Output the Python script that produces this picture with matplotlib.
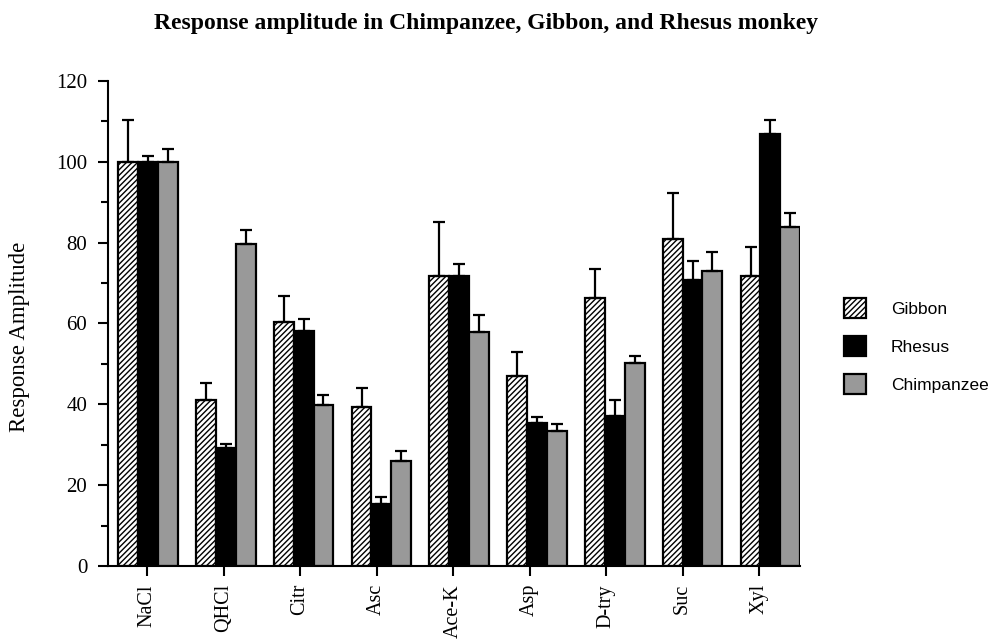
import numpy as np
import matplotlib
matplotlib.use('Agg')
import matplotlib.pyplot as plt
from matplotlib.patches import Patch
from matplotlib.ticker import MultipleLocator

# values
tastants = ["NaCl", "QHCl", "Citr", "Asc", "Ace-K", "Asp", "D-try", "Suc", "Xyl"]
gibbon = [100, 41.1, 60.4, 39.4, 71.8, 47.1, 66.4, 80.9, 71.8]
gibbon_err = [10.4, 4.2, 6.4, 4.7, 13.3, 5.9, 7.1, 11.4, 7.2]
rhesus = [100, 29.2, 58.0, 15.3, 71.8, 35.4, 37.1, 70.8, 106.9]
rhesus_err = [1.3, 1.0, 3.0, 1.8, 3.0, 1.5, 4.0, 4.7, 3.5]
chimp = [100, 79.7, 39.9, 26.0, 57.9, 33.4, 50.2, 73.0, 83.9]
chimp_err = [3.2, 3.5, 2.4, 2.5, 4.2, 1.7, 1.8, 4.7, 3.5]

plt.rcParams['hatch.color'] = '#333333'
plt.rcParams['hatch.linewidth'] = 1.0

fig = plt.figure(figsize=(9.92, 6.41), dpi=100)
ax = fig.add_axes([0.109, 0.117, 0.6976, 0.757])

x = np.arange(len(tastants))
w = 0.255
err_kw = dict(capsize=4.5, elinewidth=1.6, capthick=1.6, ecolor='black')
no_low = np.zeros(len(x))

ax.bar(x - w, gibbon, w, yerr=[no_low, gibbon_err], color='white',
       edgecolor='black', linewidth=1.6, hatch='//////', error_kw=err_kw, zorder=2)
ax.bar(x, rhesus, w, yerr=[no_low, rhesus_err], color='black',
       edgecolor='black', linewidth=1.6, error_kw=err_kw, zorder=2)
ax.bar(x + w, chimp, w, yerr=[no_low, chimp_err], color='#999999',
       edgecolor='black', linewidth=1.6, error_kw=err_kw, zorder=2)

ax.set_xlim(-0.513, 8.383)
ax.set_ylim(0, 120)
ax.set_yticks([0, 20, 40, 60, 80, 100, 120])
ax.set_yticklabels(['0', '20', '40', '60', '80', '100', '120'],
                   family='Liberation Serif', fontsize=15)
ax.yaxis.set_minor_locator(MultipleLocator(10))

# the original's category ticks drift slightly left of the bar groups
ax.set_xticks(x * 0.9835 - 0.013)
ax.set_xticklabels(tastants, rotation=90, family='Liberation Serif', fontsize=14.5)
ax.tick_params(axis='x', direction='out', length=7, width=1.5, pad=6)
ax.tick_params(axis='y', which='major', direction='out', length=7, width=1.5, pad=8)
ax.tick_params(axis='y', which='minor', direction='out', length=5, width=1.5)

for side in ['top', 'right']:
    ax.spines[side].set_visible(False)
for side in ['left', 'bottom']:
    ax.spines[side].set_linewidth(1.5)

ax.set_ylabel('Response Amplitude', family='Liberation Serif', fontsize=16.5)
ax.yaxis.set_label_coords(-0.113, 0.472)
fig.suptitle('Response amplitude in Chimpanzee, Gibbon, and Rhesus monkey',
             family='Liberation Serif', fontweight='bold', fontsize=17, x=0.49, y=0.98)

handles = [
    Patch(facecolor='white', edgecolor='black', hatch='//////', linewidth=1.6),
    Patch(facecolor='black', edgecolor='black', linewidth=1.6),
    Patch(facecolor='#999999', edgecolor='black', linewidth=1.6),
]
fig.legend(handles, ['Gibbon', 'Rhesus', 'Chimpanzee'], loc='center left',
           bbox_to_anchor=(0.835, 0.46), frameon=False,
           prop={'family': 'Liberation Sans', 'size': 12.5},
           handlelength=1.25, handleheight=1.45, labelspacing=1.0, handletextpad=1.45)

fig.savefig('out.png', dpi=100)
